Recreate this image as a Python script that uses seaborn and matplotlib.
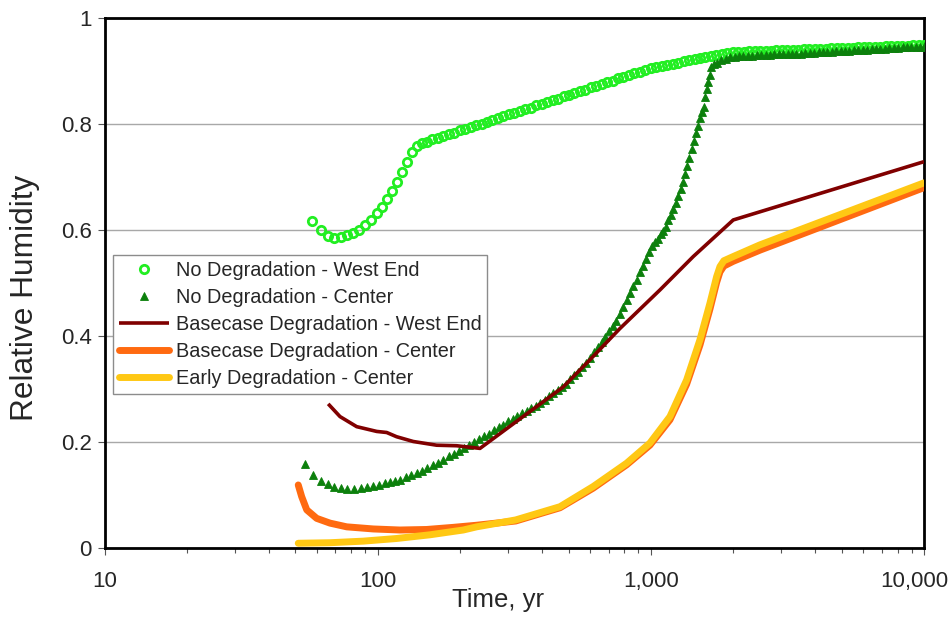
import matplotlib
matplotlib.use("Agg")
import matplotlib.pyplot as plt
from matplotlib.ticker import FixedLocator, FuncFormatter, LogLocator, NullFormatter
from matplotlib.transforms import ScaledTranslation
import pandas as pd
import seaborn as sns

# ---- No Degradation - West End (open circles) ----
nd_west_t = [
    57.6, 61.8, 65.6, 69.4, 73.4, 77.4, 81.4, 85.6, 89.8, 94.3,
    99.2, 103.7, 108.4, 113.1, 117.7, 122.7, 127.7, 133.2, 138.9, 144.9,
    151, 158, 166, 174, 182, 191, 200, 209, 219, 229,
    240, 251, 263, 275, 288, 302, 316, 331, 347, 363,
    380, 398, 417, 437, 457, 479, 501, 525, 550, 575,
    603, 631, 661, 692, 724, 759, 794, 832, 871, 912,
    955, 1000, 1047, 1096, 1148, 1202, 1259, 1318, 1380, 1445,
    1514, 1585, 1660, 1738, 1820, 1905, 1995, 2089, 2188, 2291,
    2399, 2512, 2630, 2754, 2884, 3020, 3162, 3311, 3467, 3631,
    3802, 3981, 4169, 4365, 4571, 4786, 5012, 5248, 5495, 5754,
    6026, 6310, 6607, 6918, 7244, 7586, 7943, 8318, 8710, 9120,
    9550, 10000,
]
nd_west_rh = [
    0.616, 0.600, 0.588, 0.584, 0.586, 0.590, 0.593, 0.600, 0.608, 0.618,
    0.631, 0.643, 0.657, 0.673, 0.690, 0.709, 0.727, 0.746, 0.758, 0.763,
    0.766, 0.770, 0.773, 0.776, 0.780, 0.783, 0.787, 0.790, 0.793, 0.797,
    0.800, 0.803, 0.807, 0.810, 0.814, 0.817, 0.820, 0.824, 0.827, 0.830,
    0.834, 0.837, 0.841, 0.844, 0.847, 0.851, 0.854, 0.858, 0.861, 0.864,
    0.868, 0.871, 0.874, 0.878, 0.881, 0.885, 0.888, 0.891, 0.895, 0.898,
    0.901, 0.905, 0.907, 0.909, 0.911, 0.913, 0.915, 0.917, 0.919, 0.921,
    0.923, 0.925, 0.927, 0.929, 0.931, 0.933, 0.935, 0.9354, 0.9357, 0.9361,
    0.9365, 0.9369, 0.9372, 0.9376, 0.938, 0.9383, 0.9387, 0.9391, 0.9395, 0.9398,
    0.9402, 0.9406, 0.941, 0.9413, 0.9417, 0.9421, 0.9424, 0.9428, 0.9432, 0.9436,
    0.9439, 0.9443, 0.9447, 0.945, 0.9454, 0.9458, 0.9461, 0.9465, 0.9469, 0.9473,
    0.9476, 0.948,
]

# ---- No Degradation - Center (filled triangles) ----
nd_center_t = [
    54.2, 57.8, 61.9, 65.6, 69.4, 73.2, 77.4, 81.9, 86.7, 91.1,
    96.3, 101, 106, 111, 116, 121, 127, 133, 139, 145,
    152, 159, 166, 174, 182, 190, 198, 207, 216, 225,
    235, 245, 255, 266, 277, 288, 300, 312, 325, 338,
    351, 365, 379, 394, 409, 424, 440, 456, 473, 490,
    507, 525, 543, 562, 581, 600, 620, 640, 661, 682,
    703, 725, 747, 770, 793, 816, 840, 864, 888, 912,
    936, 960, 985, 1010, 1035, 1060, 1085, 1110, 1135, 1160,
    1185, 1210, 1235, 1260, 1285, 1310, 1335, 1360, 1385, 1410,
    1435, 1460, 1485, 1510, 1535, 1560, 1580, 1600, 1620, 1640,
    1660, 1700, 1745, 1810, 1880, 1950, 2025, 2100, 2180, 2265,
    2350, 2440, 2530, 2630, 2730, 2830, 2940, 3050, 3165, 3285,
    3410, 3540, 3675, 3815, 3960, 4110, 4265, 4430, 4595, 4770,
    4950, 5140, 5335, 5540, 5750, 5965, 6195, 6430, 6670, 6925,
    7190, 7460, 7745, 8040, 8345, 8660, 8990, 9330, 9685, 10000,
]
nd_center_rh = [
    0.158, 0.137, 0.126, 0.119, 0.115, 0.112, 0.110, 0.110, 0.112, 0.114,
    0.116, 0.118, 0.121, 0.124, 0.126, 0.128, 0.133, 0.137, 0.141, 0.145,
    0.150, 0.155, 0.160, 0.166, 0.172, 0.177, 0.183, 0.188, 0.194, 0.199,
    0.204, 0.210, 0.215, 0.221, 0.227, 0.232, 0.238, 0.243, 0.248, 0.253,
    0.258, 0.263, 0.267, 0.273, 0.279, 0.285, 0.291, 0.297, 0.303, 0.309,
    0.317, 0.325, 0.332, 0.340, 0.348, 0.358, 0.368, 0.378, 0.388, 0.398,
    0.408, 0.418, 0.428, 0.441, 0.454, 0.467, 0.480, 0.493, 0.505, 0.519,
    0.532, 0.545, 0.557, 0.568, 0.576, 0.583, 0.591, 0.598, 0.605, 0.617,
    0.628, 0.639, 0.650, 0.663, 0.676, 0.689, 0.704, 0.719, 0.734, 0.751,
    0.767, 0.782, 0.796, 0.810, 0.821, 0.832, 0.850, 0.865, 0.878, 0.892,
    0.907, 0.912, 0.915, 0.919, 0.922, 0.925, 0.926, 0.9265, 0.927, 0.9275,
    0.928, 0.9285, 0.929, 0.9295, 0.930, 0.9303, 0.9306, 0.931, 0.9313, 0.9316,
    0.932, 0.932, 0.9325, 0.933, 0.9335, 0.934, 0.9345, 0.935, 0.9355, 0.936,
    0.9365, 0.937, 0.9375, 0.938, 0.9385, 0.939, 0.9395, 0.940, 0.9405, 0.941,
    0.9415, 0.942, 0.9425, 0.943, 0.9435, 0.944, 0.9442, 0.9445, 0.9448, 0.945,
]

# ---- Basecase Degradation - West End ----
base_west_t = [65.9, 72.8, 83.8, 99.2, 107.9, 117.3, 135.0, 164.4, 194.6, 236.9,
               478, 598, 770, 1080, 1430, 2003, 10000]
base_west_rh = [0.271, 0.247, 0.228, 0.219, 0.217, 0.209, 0.200, 0.193, 0.192, 0.187,
                0.303, 0.354, 0.413, 0.486, 0.549, 0.618, 0.728]

# ---- Basecase Degradation - Center ----
base_center_t = [51.2, 52.7, 55.0, 59.8, 66.9, 77.0, 96.3, 120.6, 151.1, 189.1,
                 230.4, 320, 465, 615, 815, 992, 1175, 1352, 1513, 1646,
                 1741, 1791, 1850, 2003, 2508, 10000]
base_center_rh = [0.118, 0.096, 0.071, 0.055, 0.046, 0.039, 0.035, 0.033, 0.034, 0.038,
                  0.042, 0.050, 0.075, 0.112, 0.156, 0.193, 0.241, 0.308, 0.382, 0.450,
                  0.500, 0.520, 0.531, 0.540, 0.561, 0.679]

# ---- Early Degradation - Center ----
early_center_t = [51.2, 66.9, 88.6, 117.3, 155.5, 205.7, 230.4, 320, 465, 615,
                  815, 992, 1175, 1352, 1513, 1646, 1741, 1791, 1850, 2003,
                  2508, 10000]
early_center_rh = [0.008, 0.009, 0.012, 0.017, 0.024, 0.033, 0.039, 0.052, 0.077, 0.115,
                   0.159, 0.197, 0.247, 0.316, 0.392, 0.461, 0.511, 0.530, 0.541, 0.549,
                   0.571, 0.688]

y_ticks = [0, 0.2, 0.4, 0.6, 0.8, 1.0]
x_ticks = [10, 100, 1000, 10000]

sns.set_style("ticks")
plt.rcParams["font.family"] = ["Liberation Sans", "DejaVu Sans"]

W, H = 951, 617
fig = plt.figure(figsize=(W / 100, H / 100), dpi=100)
x0, x1, y0, y1 = 104.5, 924.0, 17.5, 547.5
ax = fig.add_axes([x0 / W, 1 - y1 / H, (x1 - x0) / W, (y1 - y0) / H])


def frame(t, rh):
    return pd.DataFrame({"t": t, "rh": rh})


sns.lineplot(data=frame(nd_west_t, nd_west_rh), x="t", y="rh", ax=ax,
             estimator=None, sort=False, linestyle="", marker="o",
             markersize=6.0, markerfacecolor="none", markeredgecolor="#22ee22",
             markeredgewidth=2.0, label="No Degradation - West End", zorder=3)
sns.lineplot(data=frame(nd_center_t, nd_center_rh), x="t", y="rh", ax=ax,
             estimator=None, sort=False, linestyle="", marker="^",
             markersize=6.3, markerfacecolor="#0c800c", markeredgecolor="#0c800c",
             markeredgewidth=0.6, label="No Degradation - Center", zorder=3)
sns.lineplot(data=frame(base_west_t, base_west_rh), x="t", y="rh", ax=ax,
             estimator=None, sort=False, color="#800000", linewidth=2.6,
             solid_capstyle="butt", label="Basecase Degradation - West End", zorder=4)
sns.lineplot(data=frame(base_center_t, base_center_rh), x="t", y="rh", ax=ax,
             estimator=None, sort=False, color="#ff6a10", linewidth=5.0,
             solid_capstyle="round", label="Basecase Degradation - Center", zorder=4)
sns.lineplot(data=frame(early_center_t, early_center_rh), x="t", y="rh", ax=ax,
             estimator=None, sort=False, color="#ffc814", linewidth=5.0,
             solid_capstyle="round", label="Early Degradation - Center", zorder=4)

ax.set_xscale("log")
ax.set_xlim(10, 10000)
ax.set_ylim(0, 1)
ax.xaxis.set_major_locator(FixedLocator(x_ticks))
ax.xaxis.set_major_formatter(FuncFormatter(lambda v, _: f"{int(round(v)):,}"))
ax.xaxis.set_minor_locator(LogLocator(base=10, subs=range(2, 10)))
ax.xaxis.set_minor_formatter(NullFormatter())
ax.yaxis.set_major_locator(FixedLocator(y_ticks))
ax.yaxis.set_major_formatter(FuncFormatter(lambda v, _: f"{v:g}"))

ax.set_axisbelow(True)
ax.grid(axis="y", which="major", color="#a8a8a8", linewidth=1.0)
ax.grid(axis="x", visible=False)
for s in ax.spines.values():
    s.set_visible(True)
    s.set_linewidth(2.0)
    s.set_color("black")

ax.tick_params(axis="both", which="major", direction="out", length=5, width=0.8,
               color="#555555", labelsize=16, pad=4)
ax.tick_params(axis="x", which="major", pad=12)
ax.tick_params(axis="x", which="minor", direction="out", length=3.5, width=0.8,
               color="#555555")

ax.set_xlabel("Time, yr", fontsize=18.5)
ax.xaxis.set_label_coords((498 - x0) / (x1 - x0), (y1 - 588) / (y1 - y0))
ax.set_ylabel("Relative Humidity", fontsize=22.8)
ax.yaxis.set_label_coords((40 - x0) / (x1 - x0), (y1 - 298) / (y1 - y0))

leg = ax.legend(loc="upper left",
                bbox_to_anchor=((113 - x0) / (x1 - x0), (y1 - 255) / (y1 - y0)),
                borderaxespad=0, fontsize=14.3, frameon=True, fancybox=False,
                framealpha=1, edgecolor="#8c8c8c", handlelength=2.5,
                handletextpad=0.35, labelspacing=0.4, borderpad=0.3, numpoints=1)
leg.get_frame().set_linewidth(1.0)

# keep the last year label inside the figure edge
fig.canvas.draw()
last = ax.xaxis.get_major_ticks()[-1].label1
last.set_horizontalalignment("right")
last.set_transform(last.get_transform() + ScaledTranslation(0.24, 0, fig.dpi_scale_trans))

fig.savefig("out.png", dpi=100)
